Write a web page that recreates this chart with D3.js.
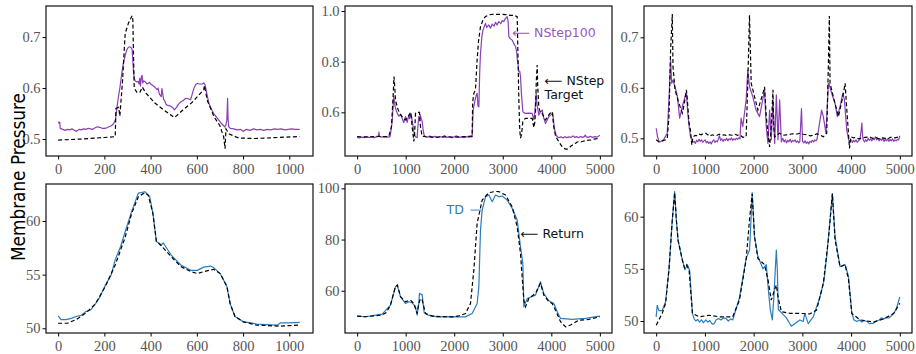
<!DOCTYPE html>
<html>
<head>
<meta charset="utf-8">
<script src="https://cdn.jsdelivr.net/npm/d3@7"></script>
<style>
  body { margin: 0; background: #fff; }
  svg { display: block; }
</style>
</head>
<body>
<div id="chart"></div>
<script>
// ---- data (x = step, y = pressure) ----
const p1Target = [[0,0.498],[100,0.500],[200,0.503],[247,0.5046],[250,0.560],[262,0.562],[267,0.545],[278,0.610],[290,0.707],[304,0.727],[320,0.742],[323,0.735],[329,0.600],[340,0.592],[353,0.591],[364,0.602],[380,0.590],[420,0.570],[460,0.556],[503,0.542],[540,0.557],[580,0.572],[630,0.597],[633,0.605],[645,0.576],[674,0.544],[700,0.526],[710,0.512],[716,0.505],[722,0.481],[726,0.520],[740,0.510],[780,0.502],[850,0.501],[950,0.503],[1045,0.505]];
const p1Pred = [[0,0.534],[4,0.531],[7,0.533],[9,0.521],[20,0.519],[30,0.517],[40,0.519],[50,0.518],[60,0.520],[70,0.517],[80,0.515],[90,0.519],[100,0.518],[110,0.520],[120,0.519],[130,0.521],[140,0.520],[150,0.519],[160,0.522],[170,0.524],[180,0.523],[190,0.521],[200,0.521],[210,0.522],[220,0.524],[230,0.526],[240,0.530],[248,0.538],[254,0.560],[260,0.580],[268,0.603],[275,0.628],[282,0.648],[290,0.664],[297,0.675],[304,0.680],[310,0.681],[316,0.679],[320,0.676],[323,0.655],[326,0.632],[330,0.618],[334,0.614],[340,0.612],[346,0.613],[350,0.608],[353,0.619],[356,0.604],[360,0.622],[363,0.625],[366,0.610],[370,0.614],[375,0.613],[385,0.608],[395,0.611],[403,0.607],[412,0.604],[420,0.601],[428,0.597],[432,0.600],[438,0.588],[446,0.583],[449,0.599],[452,0.590],[456,0.578],[460,0.576],[467,0.568],[474,0.566],[485,0.565],[495,0.562],[503,0.557],[512,0.562],[520,0.568],[531,0.573],[540,0.575],[552,0.580],[562,0.579],[573,0.577],[580,0.588],[587,0.599],[595,0.607],[602,0.609],[612,0.608],[623,0.608],[630,0.610],[636,0.606],[645,0.585],[652,0.570],[659,0.563],[666,0.556],[673,0.550],[680,0.546],[688,0.541],[697,0.536],[705,0.531],[712,0.528],[720,0.524],[726,0.528],[730,0.538],[733,0.580],[735,0.540],[738,0.524],[745,0.521],[760,0.520],[775,0.518],[790,0.519],[800,0.515],[815,0.519],[830,0.517],[845,0.520],[860,0.518],[875,0.519],[890,0.517],[905,0.519],[920,0.518],[935,0.520],[950,0.519],[965,0.520],[980,0.518],[995,0.519],[1010,0.520],[1025,0.519],[1045,0.519]];

const p2Target = [[0,0.504],[200,0.503],[400,0.505],[600,0.504],[652,0.505],[707,0.543],[740,0.66],[760,0.741],[775,0.70],[790,0.649],[820,0.625],[845,0.610],[880,0.595],[927,0.583],[960,0.575],[996,0.570],[1040,0.580],[1080,0.592],[1099,0.600],[1115,0.580],[1133,0.543],[1168,0.485],[1185,0.520],[1202,0.596],[1215,0.600],[1284,0.600],[1305,0.543],[1339,0.506],[1400,0.504],[1600,0.502],[1800,0.503],[2000,0.502],[2200,0.504],[2369,0.506],[2380,0.640],[2404,0.675],[2438,0.690],[2472,0.807],[2500,0.880],[2541,0.938],[2600,0.968],[2644,0.978],[2720,0.985],[2782,0.987],[2900,0.987],[3056,0.986],[3150,0.983],[3228,0.983],[3297,0.978],[3315,0.800],[3331,0.649],[3350,0.530],[3365,0.498],[3386,0.512],[3413,0.563],[3440,0.572],[3468,0.576],[3540,0.576],[3606,0.576],[3640,0.540],[3660,0.560],[3674,0.600],[3690,0.720],[3709,0.787],[3720,0.700],[3743,0.620],[3780,0.596],[3812,0.596],[3850,0.580],[3880,0.570],[3920,0.580],[3949,0.590],[3990,0.600],[4018,0.603],[4035,0.570],[4052,0.540],[4087,0.508],[4120,0.495],[4155,0.484],[4210,0.468],[4258,0.458],[4300,0.455],[4327,0.455],[4355,0.459],[4380,0.462],[4405,0.467],[4430,0.470],[4465,0.476],[4500,0.478],[4535,0.483],[4567,0.484],[4610,0.483],[4650,0.486],[4700,0.488],[4773,0.490],[4830,0.491],[4880,0.494],[4940,0.496],[5000,0.500]];
const p2Pred = [[0,0.501],[50,0.499],[100,0.502],[150,0.500],[200,0.503],[250,0.501],[300,0.502],[350,0.500],[400,0.503],[440,0.505],[450,0.522],[460,0.505],[500,0.502],[550,0.504],[600,0.503],[652,0.502],[680,0.505],[720,0.560],[755,0.662],[780,0.625],[800,0.610],[830,0.595],[860,0.585],[900,0.590],[927,0.576],[960,0.560],[996,0.583],[1030,0.560],[1065,0.590],[1080,0.575],[1110,0.595],[1140,0.560],[1168,0.523],[1200,0.504],[1236,0.500],[1250,0.540],[1270,0.583],[1284,0.568],[1300,0.590],[1320,0.575],[1340,0.565],[1360,0.530],[1380,0.510],[1408,0.504],[1450,0.502],[1500,0.506],[1550,0.501],[1600,0.505],[1650,0.500],[1700,0.504],[1750,0.502],[1800,0.508],[1850,0.501],[1900,0.504],[1950,0.500],[2000,0.503],[2050,0.507],[2100,0.501],[2150,0.503],[2200,0.500],[2250,0.504],[2300,0.502],[2369,0.504],[2390,0.609],[2420,0.640],[2450,0.665],[2472,0.675],[2490,0.625],[2507,0.622],[2525,0.760],[2541,0.833],[2570,0.900],[2592,0.925],[2644,0.951],[2670,0.935],[2713,0.945],[2747,0.932],[2782,0.948],[2820,0.940],[2850,0.955],[2880,0.945],[2919,0.958],[2960,0.950],[2988,0.962],[3020,0.958],[3056,0.971],[3090,0.978],[3110,0.960],[3125,0.899],[3160,0.890],[3194,0.885],[3230,0.870],[3263,0.860],[3290,0.835],[3297,0.813],[3315,0.790],[3331,0.760],[3350,0.762],[3365,0.740],[3386,0.670],[3413,0.603],[3440,0.598],[3468,0.596],[3540,0.597],[3606,0.596],[3640,0.570],[3660,0.600],[3688,0.675],[3700,0.640],[3715,0.620],[3743,0.589],[3770,0.600],[3812,0.609],[3840,0.580],[3880,0.556],[3915,0.570],[3949,0.583],[3990,0.590],[4031,0.596],[4050,0.560],[4070,0.530],[4100,0.510],[4121,0.504],[4160,0.500],[4200,0.503],[4240,0.499],[4280,0.504],[4320,0.500],[4360,0.503],[4400,0.501],[4450,0.507],[4480,0.501],[4520,0.504],[4560,0.500],[4600,0.505],[4640,0.501],[4680,0.504],[4700,0.510],[4720,0.503],[4760,0.501],[4800,0.505],[4850,0.501],[4900,0.504],[4950,0.502],[5000,0.510]];

const p3Target = [[0,0.497],[55,0.493],[100,0.494],[190,0.497],[227,0.500],[262,0.543],[296,0.675],[331,0.746],[345,0.642],[386,0.596],[468,0.569],[537,0.550],[580,0.570],[620,0.596],[640,0.576],[675,0.530],[703,0.517],[730,0.487],[757,0.503],[800,0.506],[850,0.505],[882,0.508],[920,0.507],[960,0.509],[1019,0.510],[1060,0.507],[1100,0.504],[1130,0.506],[1157,0.507],[1200,0.505],[1250,0.506],[1295,0.508],[1340,0.506],[1400,0.507],[1450,0.505],[1500,0.507],[1570,0.506],[1620,0.508],[1670,0.506],[1708,0.507],[1740,0.505],[1777,0.502],[1846,0.503],[1880,0.609],[1915,0.744],[1950,0.609],[1984,0.596],[2087,0.556],[2190,0.589],[2224,0.602],[2259,0.543],[2293,0.510],[2328,0.483],[2362,0.523],[2397,0.596],[2411,0.523],[2432,0.503],[2480,0.507],[2534,0.510],[2600,0.506],[2672,0.507],[2740,0.508],[2800,0.509],[2870,0.508],[2948,0.510],[3020,0.508],[3100,0.507],[3160,0.505],[3230,0.506],[3300,0.509],[3370,0.506],[3430,0.503],[3500,0.510],[3533,0.642],[3554,0.742],[3568,0.609],[3636,0.582],[3740,0.543],[3829,0.582],[3877,0.609],[3912,0.556],[3946,0.510],[3967,0.480],[3994,0.503],[4050,0.501],[4100,0.502],[4150,0.499],[4200,0.500],[4290,0.502],[4380,0.503],[4440,0.500],[4500,0.502],[4550,0.500],[4600,0.499],[4650,0.501],[4700,0.500],[4750,0.498],[4800,0.502],[4900,0.501],[5000,0.503]];
const p3Pred = [[0,0.520],[28,0.503],[62,0.493],[100,0.494],[150,0.497],[227,0.510],[262,0.576],[296,0.655],[317,0.609],[344,0.615],[386,0.602],[434,0.584],[482,0.540],[537,0.563],[620,0.592],[648,0.550],[675,0.524],[705,0.503],[730,0.497],[755,0.492],[780,0.494],[805,0.490],[830,0.496],[855,0.493],[880,0.498],[905,0.494],[930,0.497],[955,0.492],[980,0.495],[1005,0.497],[1030,0.491],[1055,0.494],[1080,0.490],[1105,0.493],[1130,0.489],[1155,0.494],[1180,0.497],[1205,0.492],[1230,0.495],[1255,0.493],[1280,0.500],[1300,0.505],[1320,0.496],[1345,0.499],[1370,0.494],[1395,0.498],[1420,0.496],[1445,0.500],[1470,0.495],[1495,0.499],[1520,0.497],[1545,0.501],[1570,0.496],[1595,0.499],[1620,0.497],[1645,0.500],[1670,0.498],[1695,0.501],[1720,0.499],[1742,0.540],[1777,0.523],[1846,0.576],[1880,0.635],[1915,0.602],[1984,0.582],[2050,0.556],[2121,0.543],[2224,0.596],[2259,0.523],[2293,0.490],[2328,0.556],[2362,0.497],[2397,0.576],[2432,0.490],[2466,0.586],[2500,0.497],[2534,0.576],[2569,0.493],[2600,0.500],[2625,0.493],[2650,0.497],[2675,0.491],[2700,0.496],[2725,0.493],[2750,0.498],[2775,0.492],[2800,0.496],[2825,0.494],[2850,0.497],[2875,0.492],[2900,0.495],[2925,0.491],[2948,0.494],[2982,0.559],[3003,0.494],[3030,0.491],[3055,0.495],[3080,0.490],[3105,0.493],[3130,0.489],[3155,0.494],[3180,0.492],[3205,0.496],[3230,0.493],[3255,0.497],[3280,0.495],[3300,0.498],[3395,0.556],[3430,0.543],[3485,0.510],[3533,0.609],[3554,0.606],[3602,0.589],[3670,0.569],[3719,0.543],[3774,0.563],[3829,0.589],[3863,0.576],[3912,0.516],[3950,0.497],[3975,0.494],[4000,0.497],[4025,0.492],[4050,0.496],[4075,0.493],[4100,0.497],[4125,0.492],[4150,0.495],[4180,0.497],[4205,0.515],[4222,0.530],[4235,0.505],[4250,0.497],[4275,0.493],[4300,0.497],[4325,0.494],[4350,0.500],[4375,0.496],[4400,0.499],[4425,0.495],[4450,0.500],[4475,0.497],[4500,0.503],[4525,0.497],[4550,0.500],[4575,0.495],[4600,0.499],[4625,0.496],[4650,0.500],[4675,0.494],[4700,0.498],[4725,0.495],[4750,0.499],[4775,0.494],[4800,0.498],[4825,0.495],[4850,0.499],[4875,0.494],[4900,0.497],[4925,0.495],[4950,0.498],[4975,0.497],[5000,0.505]];

const p4Target = [[0,50.47],[40,50.47],[77,50.8],[119,51.4],[162,52.3],[204,53.9],[247,55.9],[290,58.5],[318,60.7],[347,62.27],[375,62.64],[390,62.4],[410,60.7],[425,58.1],[446,57.7],[488,56.7],[531,55.75],[574,55.28],[602,55.1],[630,55.28],[673,55.5],[701,55.1],[730,53.9],[744,52.3],[765,51.1],[801,50.6],[858,50.3],[957,50.2],[1045,50.3]];
const p4Pred = [[0,51.15],[13,50.8],[35,50.8],[60,50.95],[77,51.1],[100,51.2],[119,51.55],[140,51.7],[162,52.3],[180,52.9],[204,54.0],[230,55.0],[247,56.4],[270,57.6],[290,59.0],[318,60.9],[347,62.6],[375,62.73],[396,62.3],[410,60.7],[425,58.1],[440,57.9],[446,57.76],[455,57.95],[488,56.85],[531,55.9],[574,55.4],[602,55.4],[630,55.7],[645,55.75],[660,55.8],[673,55.65],[701,55.1],[730,53.9],[744,52.3],[765,51.1],[801,50.6],[820,50.55],[858,50.4],[900,50.35],[950,50.3],[960,50.5],[1000,50.5],[1045,50.55]];

const p5Target = [[0,50.1],[172,49.85],[350,50.2],[515,50.5],[600,51.5],[687,54.4],[750,59],[790,61.6],[831,62.2],[893,57.7],[996,55.7],[1050,56.1],[1099,56.35],[1168,55.0],[1236,51.1],[1270,55],[1305,57.0],[1340,56.4],[1408,51.1],[1545,50.1],[1750,49.9],[1957,49.8],[2095,50.2],[2232,51.1],[2335,55.0],[2404,68.1],[2472,86.3],[2575,95.4],[2713,98.3],[2850,98.8],[2919,98.7],[3056,97.4],[3194,92.8],[3297,85.0],[3365,74.6],[3434,56.35],[3468,53.75],[3537,57.0],[3674,59.0],[3777,62.9],[3846,58.3],[3949,55.7],[4018,55.0],[4087,52.4],[4190,47.9],[4293,45.9],[4395,46.6],[4567,48.5],[4773,48.8],[5000,49.85]];
const p5Pred = [[0,50.1],[172,49.85],[350,50.4],[515,50.9],[687,54.4],[790,61.6],[824,62.2],[893,57.7],[996,55.0],[1065,55.7],[1133,55.3],[1202,53.8],[1236,50.5],[1270,55],[1284,59.0],[1340,58.4],[1380,51.5],[1460,50.5],[1650,49.8],[1900,49.9],[2100,49.8],[2232,49.8],[2369,51.1],[2472,55.0],[2507,61.6],[2541,83.7],[2575,91.5],[2644,96.7],[2713,97.4],[2782,94.8],[2850,97.4],[2919,96.7],[2988,97.0],[3091,95.4],[3194,92.2],[3297,87.6],[3365,77.2],[3413,70.7],[3434,53.75],[3505,57.0],[3674,58.3],[3777,63.5],[3846,58.9],[3949,56.1],[4052,55.0],[4121,51.8],[4190,49.2],[4430,48.8],[4700,49.2],[5000,50.1]];

const p6Target = [[0,49.6],[124,50.73],[193,51.7],[262,54.9],[331,59.7],[379,62.3],[414,59.7],[448,57.76],[537,55.85],[580,55.1],[620,55.4],[675,54.9],[744,50.73],[882,50.4],[1088,50.55],[1300,50.4],[1570,50.4],[1708,52.0],[1846,55.85],[1915,59.7],[1970,62.2],[2018,58.1],[2087,56.0],[2224,55.4],[2293,54.0],[2362,52.0],[2431,53.0],[2466,53.45],[2500,52.3],[2569,50.9],[2750,50.73],[2948,50.73],[3150,50.67],[3292,51.05],[3430,53.6],[3533,57.76],[3616,62.2],[3671,57.76],[3774,55.2],[3877,55.4],[3946,54.0],[4015,50.73],[4187,50.1],[4463,49.9],[4670,50.2],[4876,50.73],[5000,51.7]];
const p6Pred = [[0,50.4],[21,51.5],[55,51.0],[124,51.0],[193,51.85],[262,54.9],[331,59.7],[379,62.4],[414,59.7],[448,57.76],[537,55.85],[592,54.9],[640,55.4],[689,54.8],[744,50.73],[780,50.2],[813,50.0],[850,50.15],[890,49.9],[930,50.1],[970,49.85],[1019,50.1],[1060,49.9],[1100,50.05],[1150,49.7],[1191,49.75],[1230,50.1],[1280,50.25],[1330,50.1],[1380,50.3],[1430,50.25],[1480,50.0],[1530,50.2],[1570,50.1],[1708,52.2],[1846,56.0],[1915,56.8],[1930,58.1],[1970,62.3],[2018,58.1],[2087,56.2],[2190,55.0],[2259,55.4],[2314,52.4],[2342,51.1],[2383,50.1],[2411,52.0],[2466,56.8],[2486,54.9],[2507,51.1],[2569,50.8],[2672,50.3],[2775,49.5],[2948,50.1],[3017,49.95],[3051,50.73],[3120,49.75],[3223,50.4],[3361,52.3],[3444,53.9],[3499,56.2],[3568,59.7],[3616,62.2],[3671,58.1],[3774,55.2],[3877,55.4],[3946,54.3],[4015,50.73],[4060,50.1],[4118,49.95],[4170,50.1],[4220,49.9],[4270,50.05],[4325,49.95],[4380,49.75],[4463,49.8],[4520,50.0],[4580,50.1],[4620,50.3],[4670,50.2],[4720,50.3],[4780,50.3],[4830,50.5],[4876,50.73],[4930,51.2],[5000,52.3]];

const xTicksShort = [0, 200, 400, 600, 800, 1000];
const xTicksLong = [0, 1000, 2000, 3000, 4000, 5000];
const yTicks = [[0.5, 0.6, 0.7], [0.6, 0.8, 1.0], [0.5, 0.6, 0.7], [50, 55, 60], [60, 80, 100], [50, 55, 60]];
const yLabel = "Membrane Pressure";

const purple = "#8b3fb5";
const blue = "#2a7cbf";

// ---- layout ----
const width = 916, height = 354;
const cols = [[46, 313], [345, 612], [644, 912]];
const rows = [[6, 156], [184, 333]];

const panels = [
  { row: 0, col: 0, xd: [-52.5, 1102.5], yd: [0.4667, 0.761], fmt: ".1f", xt: xTicksShort, pred: p1Pred, target: p1Target, color: purple },
  { row: 0, col: 1, xd: [-250, 5250], yd: [0.4276, 1.0197], fmt: ".1f", xt: xTicksLong, pred: p2Pred, target: p2Target, color: purple },
  { row: 0, col: 2, xd: [-250, 5250], yd: [0.465, 0.762], fmt: ".1f", xt: xTicksLong, pred: p3Pred, target: p3Target, color: purple },
  { row: 1, col: 0, xd: [-52.5, 1102.5], yd: [49.56, 63.45], fmt: "d", xt: xTicksShort, pred: p4Pred, target: p4Target, color: blue },
  { row: 1, col: 1, xd: [-250, 5250], yd: [43.5, 101.7], fmt: "d", xt: xTicksLong, pred: p5Pred, target: p5Target, color: blue },
  { row: 1, col: 2, xd: [-250, 5250], yd: [48.85, 63.13], fmt: "d", xt: xTicksLong, pred: p6Pred, target: p6Target, color: blue }
];

const svg = d3.select("#chart").append("svg")
  .attr("width", width)
  .attr("height", height);

const tickFont = "'Liberation Serif', 'DejaVu Serif', serif";
const sansFont = "'DejaVu Sans', sans-serif";

panels.forEach((p, i) => {
  const [x0, x1] = cols[p.col];
  const [y0, y1] = rows[p.row];
  p.x = d3.scaleLinear().domain(p.xd).range([x0, x1]);
  p.y = d3.scaleLinear().domain(p.yd).range([y1, y0]);

  svg.append("clipPath").attr("id", "clip" + i)
    .append("rect").attr("x", x0).attr("y", y0).attr("width", x1 - x0).attr("height", y1 - y0);

  const line = d3.line().x(d => p.x(d[0])).y(d => p.y(d[1]));
  const g = svg.append("g").attr("clip-path", "url(#clip" + i + ")");

  g.append("path")
    .datum(p.pred)
    .attr("d", line)
    .attr("fill", "none")
    .attr("stroke", p.color)
    .attr("stroke-width", 1.2)
    .attr("stroke-linejoin", "round");

  g.append("path")
    .datum(p.target)
    .attr("d", line)
    .attr("fill", "none")
    .attr("stroke", "#000")
    .attr("stroke-width", 1.2)
    .attr("stroke-dasharray", "4,2.5");

  // axes
  const xAxis = d3.axisBottom(p.x).tickValues(p.xt).tickSize(3.5).tickPadding(4).tickFormat(d3.format("d"));
  const yAxis = d3.axisLeft(p.y).tickValues(yTicks[i]).tickSize(3.5).tickPadding(2).tickFormat(d3.format(p.fmt));

  const gx = svg.append("g").attr("transform", "translate(0," + y1 + ")").call(xAxis);
  const gy = svg.append("g").attr("transform", "translate(" + x0 + ",0)").call(yAxis);
  [gx, gy].forEach(ax => {
    ax.select(".domain").remove();
    ax.selectAll("line").attr("stroke", "#000").attr("stroke-width", 1);
    ax.selectAll("text")
      .attr("fill", "#555")
      .style("font-family", tickFont)
      .style("font-size", "14.5px");
  });

  svg.append("rect")
    .attr("x", x0).attr("y", y0)
    .attr("width", x1 - x0).attr("height", y1 - y0)
    .attr("fill", "none")
    .attr("stroke", "#111")
    .attr("stroke-width", 1.2);
});

// annotations
const p2 = panels[1], p5 = panels[4];
svg.append("text")
  .attr("x", p2.x(3193)).attr("y", p2.y(0.897))
  .attr("fill", "#9b55c4")
  .style("font-family", sansFont).style("font-size", "12.5px")
  .text("\u27F5 NStep100");
svg.append("text")
  .attr("x", p2.x(3861)).attr("y", p2.y(0.7087))
  .attr("fill", "#111")
  .style("font-family", sansFont).style("font-size", "12.5px")
  .text("\u27F5 NStep");
svg.append("text")
  .attr("x", p2.x(3861)).attr("y", p2.y(0.653))
  .attr("fill", "#111")
  .style("font-family", sansFont).style("font-size", "12.5px")
  .text("Target");

svg.append("text")
  .attr("x", p5.x(1842)).attr("y", p5.y(89.96))
  .attr("fill", blue)
  .style("font-family", sansFont).style("font-size", "12.5px")
  .text("TD");
svg.append("line")
  .attr("x1", p5.x(2336)).attr("x2", p5.x(2563))
  .attr("y1", p5.y(91.5)).attr("y2", p5.y(91.5))
  .attr("stroke", blue).attr("stroke-width", 0.9);
svg.append("text")
  .attr("x", p5.x(3366)).attr("y", p5.y(80.6))
  .attr("fill", "#111")
  .style("font-family", sansFont).style("font-size", "12.5px")
  .text("\u27F5 Return");

// shared y label
svg.append("text")
  .attr("transform", "translate(25,177) rotate(-90)")
  .attr("text-anchor", "middle")
  .attr("fill", "#000")
  .attr("textLength", 168)
  .attr("lengthAdjust", "spacingAndGlyphs")
  .style("font-family", sansFont)
  .style("font-size", "20px")
  .text(yLabel);
</script>
</body>
</html>
